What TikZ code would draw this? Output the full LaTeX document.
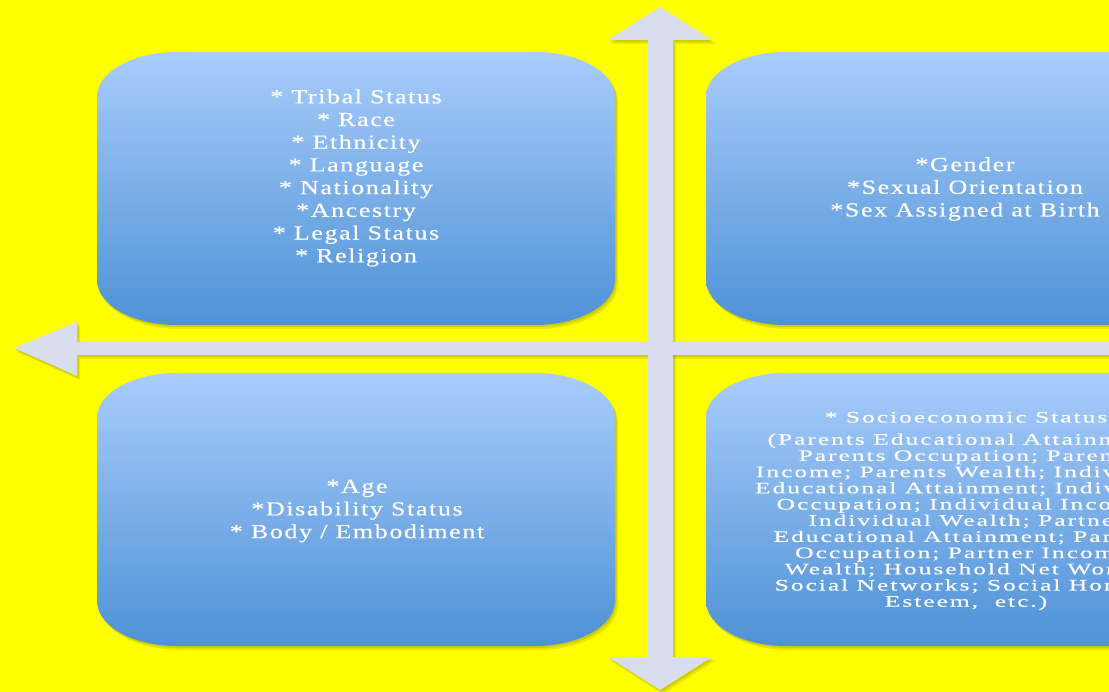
\documentclass[tikz,border=0pt]{standalone}
\usepackage{fontspec}
\newfontfamily\cfont[FakeStretch=1.3,LetterSpace=8,FakeBold=0.3]{Liberation Serif}
\newfontfamily\cfontw[FakeStretch=1.6,LetterSpace=12,FakeBold=0.3]{Liberation Serif}
\definecolor{bgyellow}{RGB}{255,255,0}
\definecolor{boxtop}{RGB}{169,204,251}
\definecolor{boxbot}{RGB}{78,146,214}
\definecolor{arrowgrey}{RGB}{216,222,237}
\definecolor{shadowc}{RGB}{150,150,0}
\newcommand\rrect[5]{%
  \path[#1] (#2,#3+45) .. controls (#2,#3+20) and (#2+36,#3) .. (#2+80,#3)
    -- (#4-80,#3) .. controls (#4-36,#3) and (#4,#3+20) .. (#4,#3+45)
    -- (#4,#5-45) .. controls (#4,#5-20) and (#4-36,#5) .. (#4-80,#5)
    -- (#2+80,#5) .. controls (#2+36,#5) and (#2,#5-20) .. (#2,#5-45) -- cycle;}
\newcommand\vertarrow[1]{%
  \path[#1] (660,7) -- (712,40) -- (673,40) -- (673,657) -- (712,657) -- (660,690)
    -- (608,657) -- (648,657) -- (648,40) -- (608,40) -- cycle;}
\newcommand\horarrow[1]{%
  \path[#1] (14,348) -- (77,322) -- (77,342) -- (1130,342) -- (1130,355) -- (77,355)
    -- (77,376) -- cycle;}
\tikzset{
  boxfill/.style={top color=boxtop, bottom color=boxbot},
  shadowA/.style={fill=shadowc, opacity=0.22, shift={(3,4)}},
  shadowB/.style={fill=shadowc, opacity=0.30, shift={(1.5,2)}},
  arrowfill/.style={fill=arrowgrey},
  txt/.style={text=white, align=center, inner sep=0pt, font=\cfont\fontsize{20}{22.7}\selectfont},
  txtsmall/.style={text=white, align=center, inner sep=0pt, font=\cfontw\fontsize{16}{16.2}\selectfont},
}
\begin{document}
\begin{tikzpicture}[x=1pt,y=-1pt]
\useasboundingbox (0,0) rectangle (1109,692);
\clip (0,0) rectangle (1109,692);
\fill[bgyellow] (0,0) rectangle (1109,692);
% shadows
\rrect{shadowA}{97}{52}{615}{325}
\rrect{shadowB}{97}{52}{615}{325}
\rrect{shadowA}{706}{52}{1224}{325}
\rrect{shadowB}{706}{52}{1224}{325}
\rrect{shadowA}{97}{373}{615}{646}
\rrect{shadowB}{97}{373}{615}{646}
\rrect{shadowA}{706}{373}{1224}{646}
\rrect{shadowB}{706}{373}{1224}{646}
\vertarrow{shadowA}
\vertarrow{shadowB}
\horarrow{shadowA}
\horarrow{shadowB}
% boxes
\rrect{boxfill}{97}{52}{615}{325}
\rrect{boxfill}{706}{52}{1224}{325}
\rrect{boxfill}{97}{373}{615}{646}
\rrect{boxfill}{706}{373}{1224}{646}
% arrows
\vertarrow{arrowfill}
\horarrow{arrowfill}
% texts
\node[txt] (tl) at (356,178) {* Tribal Status\\* Race\\* Ethnicity\\* Language\\* Nationality\\*Ancestry\\* Legal Status\\* Religion};
\node[txt] (tr) at (965,189) {*Gender\\*Sexual Orientation\\*Sex Assigned at Birth};
\node[txt] (bl) at (357,511) {*Age\\*Disability Status\\* Body / Embodiment};
\node[txtsmall] (br) at (966,511) {* Socioeconomic Status\\[6pt]
(Parents Educational Attainment;\\
Parents Occupation; Parents\\
Income; Parents Wealth; Individual\\
Educational Attainment; Individual\\
Occupation; Individual Income;\\
Individual Wealth; Partner\\
Educational Attainment; Partner\\
Occupation; Partner Income;\\
Wealth; Household Net Worth;\\
Social Networks; Social Honor /\\
Esteem,\ \ etc.)};
\end{tikzpicture}
\end{document}
